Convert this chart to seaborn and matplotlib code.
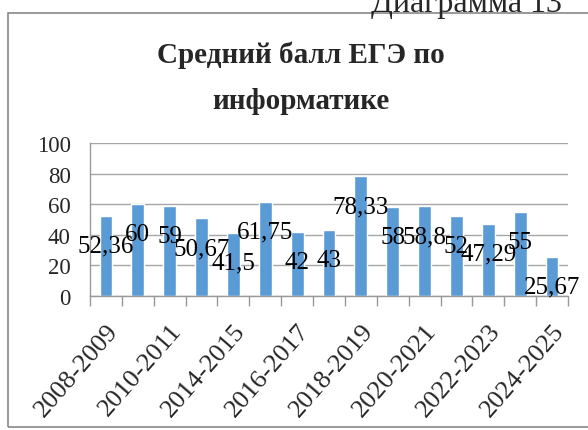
import matplotlib
matplotlib.use("Agg")
import matplotlib.pyplot as plt
from matplotlib.patches import Rectangle
import seaborn as sns

seasons = ["2008-2009", "2009-2010", "2010-2011", "2013-2014", "2014-2015",
           "2015-2016", "2016-2017", "2017-2018", "2018-2019", "2019-2020",
           "2020-2021", "2021-2022", "2022-2023", "2023-2024", "2024-2025"]
scores = [52.36, 60, 59, 50.67, 41.5, 61.75, 42, 43, 78.33, 58, 58.8, 52, 47.29, 55, 25.67]
shown_ticks = seasons[::2]

sns.set_style("white")
plt.rcParams["font.family"] = ["Liberation Serif", "DejaVu Serif"]

fig = plt.figure(figsize=(5.88, 4.31), dpi=100)
ax = fig.add_axes([90 / 588, 134 / 431, 478 / 588, 153 / 431])

sns.barplot(x=seasons, y=scores, color="#5B9BD5", width=0.4, saturation=1, ax=ax)

# data labels sit a bit below the bar tops, like in the source
for i, v in enumerate(scores):
    txt = f"{v:g}".replace(".", ",")
    ax.annotate(txt, (i, v), xytext=(0, -30), textcoords="offset pixels",
                ha="center", va="center", fontsize=18, color="black")

ax.set_ylim(0, 100)
ax.set_yticks(range(0, 101, 20))
ax.set_xlim(-0.5, len(seasons) - 0.5)
ax.set_xticks(range(0, len(seasons), 2))
ax.set_xticklabels(shown_ticks, rotation=49, ha="right", va="top",
                   rotation_mode="anchor", fontsize=19)
ax.set_xticks([i - 0.5 for i in range(len(seasons) + 1)], minor=True)
ax.tick_params(axis="x", which="major", length=0, pad=17)
ax.tick_params(axis="x", which="minor", length=7, color="#999999", width=1,
               direction="out", bottom=True)
ax.tick_params(axis="y", length=0, pad=14, labelsize=16.5)
ax.yaxis.grid(True, color="#A6A6A6", lw=1)
ax.set_axisbelow(True)
for s in ["top", "right"]:
    ax.spines[s].set_visible(False)
for s in ["left", "bottom"]:
    ax.spines[s].set_color("#999999")
    ax.spines[s].set_linewidth(1)
ax.set_xlabel("")
ax.set_ylabel("")

fig.text(301 / 588, 1 - 63 / 431, "Средний балл ЕГЭ по", ha="center",
         va="baseline", fontsize=21, fontweight="bold")
fig.text(301 / 588, 1 - 109 / 431, "информатике", ha="center",
         va="baseline", fontsize=21, fontweight="bold")
fig.text(562 / 588, 1 - 12 / 431, "Диаграмма 13", ha="right", va="baseline",
         fontsize=23)

fig.patches.append(Rectangle((8 / 588, 3 / 431), 1.0, (431 - 14 - 3) / 431,
                             transform=fig.transFigure, fill=False,
                             edgecolor="#888888", lw=1.2))

fig.savefig("out.png", dpi=100)
